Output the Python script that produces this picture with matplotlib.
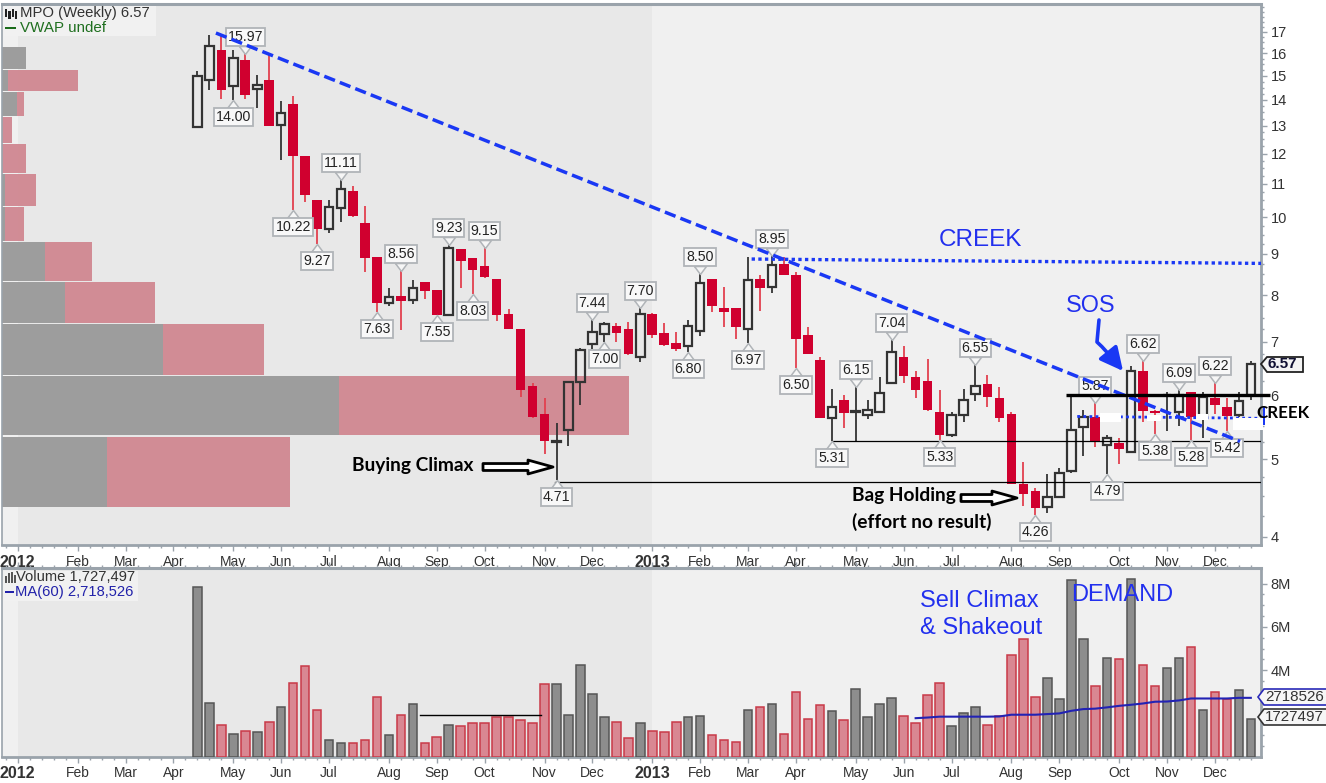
import matplotlib
matplotlib.use("Agg")
import matplotlib.pyplot as plt
from matplotlib.patches import Rectangle, Polygon, FancyArrowPatch
from matplotlib.path import Path
from matplotlib.transforms import Affine2D, blended_transform_factory
from matplotlib.ticker import FixedLocator, NullFormatter, FixedFormatter

plt.rcParams['font.family'] = ['Liberation Sans', 'DejaVu Sans']

# ---------- data ----------
opens = [12.94,14.81,16.14,14.56,15.69,14.43,14.81,13.02,13.83,11.91,10.50,9.66,10.27,10.78,9.83,8.92,7.82,7.98,7.89,8.30,
         8.12,7.55,9.13,8.89,8.69,8.37,7.57,7.25,6.16,5.69,5.25,5.43,6.23,6.95,7.15,7.32,7.25,6.70,7.57,7.17,
         6.97,6.91,7.21,8.37,7.71,7.71,7.25,8.37,8.18,8.74,8.47,7.13,6.64,5.62,5.93,5.72,5.67,5.72,6.21,6.70,
         6.32,6.25,5.72,5.35,5.67,6.02,6.20,5.95,5.69,4.65,4.56,4.36,4.49,4.83,5.48,5.64,5.20,5.23,5.10,6.43,
         5.74,6.00,5.72,6.06,5.62,5.95,5.81,5.67,6.00]
highs = [15.20,16.85,16.81,16.14,15.97,15.03,15.90,13.95,14.15,11.91,10.50,10.50,11.11,10.94,10.32,8.92,8.16,8.56,8.35,8.30,
         8.12,9.23,9.13,8.89,9.15,8.37,7.69,7.25,6.21,5.95,5.54,6.23,6.87,7.44,7.40,7.38,7.40,7.70,7.60,7.38,
         7.19,7.44,8.50,8.37,8.18,7.71,8.92,8.47,8.95,8.92,8.54,7.29,6.70,6.11,6.00,6.15,5.93,6.32,7.04,6.91,
         6.43,6.66,6.09,5.72,6.11,6.55,6.37,6.14,5.72,4.96,4.60,4.79,4.87,5.97,5.75,5.87,5.35,5.31,6.53,6.62,
         5.75,6.06,6.09,6.06,6.06,6.22,5.95,6.06,6.62]
lows = [12.94,14.39,14.03,14.00,14.03,13.68,12.98,11.78,10.22,10.44,9.27,9.55,9.86,10.00,8.54,7.63,7.75,7.23,7.80,7.91,
        7.55,7.55,8.16,8.03,8.39,7.42,7.25,5.97,5.62,5.07,4.71,5.19,5.83,6.85,7.00,6.99,6.73,6.60,7.07,6.91,
        6.81,6.80,7.11,7.62,7.29,7.05,6.97,7.64,8.05,8.47,6.50,6.75,5.62,5.26,5.46,5.27,5.61,5.72,6.21,6.21,
        5.95,5.74,5.28,5.33,5.56,5.90,5.80,5.56,4.65,4.37,4.26,4.28,4.48,4.81,5.04,5.18,4.79,4.93,5.09,5.56,
        5.38,5.42,5.49,5.28,5.31,5.69,5.42,5.64,5.92]
closes = [14.99,16.33,14.39,15.78,14.19,14.60,12.98,13.48,11.91,10.66,9.66,10.29,10.84,10.03,8.89,7.82,7.95,7.87,8.16,8.09,
          7.55,9.15,8.82,8.59,8.42,7.55,7.25,6.09,5.64,5.26,5.26,6.23,6.83,7.19,7.36,7.17,6.75,7.57,7.13,6.93,
          6.85,7.32,8.28,7.75,7.62,7.29,8.35,8.16,8.71,8.47,7.05,6.75,5.62,5.81,5.70,5.74,5.75,6.04,6.79,6.34,
          6.09,5.75,5.35,5.67,5.92,6.16,5.97,5.62,4.65,4.53,4.34,4.48,4.81,5.43,5.64,5.26,5.31,5.15,6.43,5.74,
          5.70,6.01,6.00,5.64,5.97,5.83,5.65,5.90,6.57]

volumes = [7.82,2.49,1.46,1.05,1.18,1.12,1.60,2.29,3.40,4.17,2.14,0.75,0.63,0.63,0.75,2.77,0.98,1.95,2.42,0.63,
           0.91,1.46,1.40,1.54,1.54,1.82,1.82,1.68,1.54,3.34,3.34,1.95,4.23,2.92,1.82,1.60,0.85,1.54,1.18,1.12,
           1.60,1.82,1.88,0.98,0.77,0.69,2.14,2.29,2.42,1.05,2.98,1.74,2.37,2.09,1.68,3.12,1.82,2.42,2.71,1.88,
           1.54,2.85,3.40,1.40,2.02,2.29,1.46,1.88,4.72,5.42,2.78,3.62,2.65,8.18,5.42,3.26,4.58,4.51,8.23,4.23,
           3.26,4.09,4.58,5.06,2.15,2.98,2.65,3.06,1.73]
volume_colors = "ggrgrgrgrrrggrrrgrgrrgrrrrrrrrgggggrrgrrrggrrrgrgrrrrgrggggrrrrgggrrrrrgggg"\
                "rgrgrrggrgrrgg"

ma_weeks = list(range(60, 89))
ma_values = [1.78,1.81,1.85,1.85,1.85,1.85,1.85,1.86,1.94,1.94,1.94,1.97,2.00,2.12,2.20,2.22,2.28,2.35,2.40,2.46,
             2.54,2.55,2.60,2.69,2.69,2.69,2.69,2.72,2.72]

month_weeks = [-15,-10,-6,-2,3,7,11,16,20,24,29,33,38,42,46,50,55,59,63,68,72,77,81,85]
month_labels = ['2012','Feb','Mar','Apr','May','Jun','Jul','Aug','Sep','Oct','Nov','Dec',
                '2013','Feb','Mar','Apr','May','Jun','Jul','Aug','Sep','Oct','Nov','Dec']

price_ticks = [4,5,6,7,8,9,10,11,12,13,14,15,16,17]
volume_ticks = [2,4,6,8]
volume_tick_labels = ['', '4M', '6M', '8M']

profile_low  = [15.29,14.35,13.36,12.36,11.35,10.32,9.34,8.33,7.38,6.36,5.35,4.36]
profile_high = [16.28,15.25,14.31,13.33,12.33,11.31,10.29,9.31,8.30,7.36,6.34,5.33]
profile_down = [24,6,15,0,0,3,3,43,63,161,337,105]
profile_up   = [0,70,7,10,24,31,19,47,90,101,290,183]

callout_text = ['15.97','14.00','10.22','9.27','11.11','8.56','7.63','7.55','9.23','8.03','9.15','7.44','7.00','7.70',
                '4.71','6.80','8.50','6.97','8.95','6.50','6.15','7.04','5.31','5.33','6.55','4.26','5.87','4.79',
                '6.62','5.38','6.09','5.28','6.22','5.42']
callout_week = [4,3,8,10,12,17,15,20,21,23,24,33,34,37,30,41,42,46,48,50,55,58,53,62,65,70,75,76,79,80,82,83,85,86]
callout_above = [1,0,0,0,1,1,0,0,1,0,1,1,0,1,0,0,1,0,1,0,1,1,0,0,1,0,1,0,1,0,1,0,1,0]

trend_week, trend_price = [1.55, 87.1], [16.95, 5.26]
creek_week, creek_price = [46.3, 88.85], [8.87, 8.76]
creek2_week, creek2_price = [73.5, 88.85], [5.65, 5.62]
support1_week, support1_price = [53, 88.85], [5.26, 5.26]
support2_week, support2_price = [29.9, 88.85], [4.68, 4.68]
sos_week, sos_price = [72.6, 89.6], [6.00, 6.00]
vol_line_week, vol_line_value = [18.6, 28.7], [1.92, 1.92]

# ---------- colours ----------
C_RED = '#d0002f'
C_WICK = '#e2404f'
C_DARK = '#333333'
C_BLUE = '#1a38f4'
C_TEXT_BLUE = '#2230ee'
C_SPINE = '#9aa3ab'

W, H = 1326, 783
fig = plt.figure(figsize=(W/100, H/100), dpi=100, facecolor='white')
px = Affine2D().scale(1, -1).translate(0, H)   # image pixel coordinates for page furniture


def axes_at(x0, y0, x1, y1):
    return fig.add_axes([x0/W, 1-y1/H, (x1-x0)/W, (y1-y0)/H])


XLIM = (-16.32, 88.85)
ax = axes_at(2, 4, 1261, 545)
av = axes_at(2, 568, 1261, 756.7)

for a in (ax, av):
    a.set_xlim(*XLIM)
    a.set_facecolor('#f0f0f0')
    a.axvspan(-15, 38, color='#e8e8e8', lw=0, zorder=0)
    for s in a.spines.values():
        s.set_color(C_SPINE)
        s.set_linewidth(1.2)
    a.spines['top'].set_linewidth(2.2)
    a.spines['right'].set_linewidth(2.0)
    a.spines['bottom'].set_linewidth(2.0)
    a.yaxis.tick_right()
    a.xaxis.set_major_locator(FixedLocator(month_weeks))
    a.xaxis.set_major_formatter(FixedFormatter(month_labels))
    a.xaxis.set_minor_locator(FixedLocator(list(range(-16, 89))))
    a.tick_params(axis='x', which='major', length=4, width=1, color=C_SPINE, labelsize=10,
                  labelcolor='#333333', pad=3)
    a.tick_params(axis='x', which='minor', length=2.5, width=1, color=C_SPINE)
    a.tick_params(axis='y', which='major', length=4, width=1, color=C_SPINE, labelsize=10.5,
                  labelcolor='#333333', pad=3)
    a.tick_params(axis='y', which='minor', length=2.5, width=1, color=C_SPINE)
    for t in a.get_xticklabels():
        if t.get_text().startswith('201'):
            t.set_fontweight('bold')
            t.set_fontsize(11.5)

# ---------- price panel ----------
ax.set_yscale('log')
ax.set_ylim(3.909, 18.42)
ax.yaxis.set_major_locator(FixedLocator(price_ticks))
ax.yaxis.set_major_formatter(FixedFormatter([str(p) for p in price_ticks]))
ax.yaxis.set_minor_locator(FixedLocator([4 + 0.25*k for k in range(0, 58)]))
ax.yaxis.set_minor_formatter(NullFormatter())

# volume-by-price histogram, measured from the left edge of the panel
prof_tf = blended_transform_factory(Affine2D().scale(1/1259, 1) + ax.transAxes, ax.transData)
prof_heights = [h-l for h, l in zip(profile_high, profile_low)]
ax.barh(profile_low, profile_down, height=prof_heights, align='edge', left=0,
        color='#9d9d9d', lw=0, zorder=1, transform=prof_tf)
ax.barh(profile_low, profile_up, height=prof_heights, align='edge', left=profile_down,
        color='#cf848e', alpha=0.92, lw=0, zorder=1, transform=prof_tf)

weeks = list(range(len(closes)))
for i, o, h, l, c in zip(weeks, opens, highs, lows, closes):
    top, bot = max(o, c), min(o, c)
    down = c < o
    wc = C_WICK if down else C_DARK
    ax.vlines(i, top, h, color=wc, lw=1.3, zorder=3)
    ax.vlines(i, l, bot, color=wc, lw=1.3, zorder=3)
    if down:
        ax.bar(i, top-bot, bottom=bot, width=0.8, color=C_RED, lw=0, zorder=4)
    else:
        ax.bar(i, top-bot, bottom=bot, width=0.72, facecolor='none', edgecolor=C_DARK, lw=1.6, zorder=4)

# hand drawn lines
ax.plot(support1_week, support1_price, color='black', lw=0.9, zorder=5)
ax.plot(support2_week, support2_price, color='black', lw=0.9, zorder=5)

# whited-out patches on the lower creek
for x0, y0, w, h in [(1100, 413, 21, 9), (1147, 415, 14, 6), (1196, 414, 12, 6), (1233, 418, 30, 12)]:
    fig.add_artist(Rectangle((x0, y0), w, h, transform=px, fc='white', ec='none', zorder=2.5)).set_clip_on(False)

ax.plot(trend_week, trend_price, color=C_BLUE, lw=2.5, ls=(0, (3.3, 1.5)), zorder=7)
ax.plot(creek_week, creek_price, color=C_BLUE, lw=2.4, ls=(0, (1, 1)), zorder=7)
ax.plot(creek2_week, creek2_price, color=C_BLUE, lw=2.0, ls=(0, (1, 1.2)), zorder=7)
ax.plot(sos_week, sos_price, color='black', lw=2.4, zorder=8, clip_on=False, solid_capstyle='butt')

# callouts
chev_up = Path([(-6, 8), (0, 0), (6, 8), (-6, 8)])
chev_down = Path([(-6, -8), (0, 0), (6, -8), (-6, -8)])
for text, wk, above in zip(callout_text, callout_week, callout_above):
    p = highs[wk] if above else lows[wk]
    ax.plot([wk], [p], marker=chev_up if above else chev_down, ms=11.5, mfc='#f6f6f6',
            mec='#b0b4b8', mew=1.1, zorder=5.5, clip_on=False)
    ax.annotate(text, xy=(wk, p), xytext=(0, 17 if above else -17), textcoords='offset pixels',
                ha='center', va='center', fontsize=10.2, color='#222222', zorder=6,
                bbox=dict(boxstyle='square,pad=0.14', fc='#f8f8f8', ec='#b0b4b8', lw=1.3))

# ---------- volume panel ----------
av.set_ylim(0, 8.72)
av.yaxis.set_major_locator(FixedLocator(volume_ticks))
av.yaxis.set_major_formatter(FixedFormatter(volume_tick_labels))
av.yaxis.set_minor_locator(FixedLocator([0.5*k for k in range(1, 17)]))
av.yaxis.set_minor_formatter(NullFormatter())
av.tick_params(axis='x', which='both', top=True)

for i, v, col in zip(weeks, volumes, volume_colors):
    if col == 'r':
        av.bar(i, v, width=0.72, facecolor='#d98792', edgecolor='#c93a48', lw=1.1, zorder=3)
    else:
        av.bar(i, v, width=0.72, facecolor='#8d8d8d', edgecolor='#555555', lw=1.1, zorder=3)
av.plot(ma_weeks, ma_values, color='#2222b4', lw=1.5, zorder=5)
av.plot(vol_line_week, vol_line_value, color='black', lw=1.0, zorder=5)


# ---------- page furniture in image pixels ----------
def T(x, y, s, **kw):
    kw.setdefault('va', 'center')
    kw.setdefault('ha', 'left')
    kw.setdefault('zorder', 20)
    return fig.text(x, y, s, transform=px, **kw)


def R(x, y, w, h, **kw):
    kw.setdefault('zorder', 19)
    fig.add_artist(Rectangle((x, y), w, h, transform=px, **kw))


# legends
R(4, 6, 152, 30, fc='#f1f1f1', ec='none')
for x0, y0, w, h in [(5, 9, 2, 8), (8, 11, 3, 8), (12, 9, 2, 8), (15, 11, 2, 8)]:
    R(x0, y0, w, h, fc='#222222', ec='none', zorder=20)
T(20, 13, 'MPO (Weekly) 6.57', fontsize=10.7, color='#333333')
R(5, 26.5, 11, 2, fc='#1a6b1a', ec='none', zorder=20)
T(20, 28, 'VWAP undef', fontsize=10.9, color='#1f6f1f')

R(4, 571, 134, 30, fc='#f1f1f1', ec='none')
for x0, y0, w, h in [(5, 576, 2, 7), (8, 573, 2, 10), (11, 572, 2, 11), (14, 575, 2, 8)]:
    R(x0, y0, w, h, fc='#555555', ec='none', zorder=20)
T(16, 577, 'Volume 1,727,497', fontsize=10.6, color='#333333')
R(5, 591, 9, 2, fc='#2222aa', ec='none', zorder=20)
T(15, 592, 'MA(60) 2,718,526', fontsize=10.6, color='#2222aa')

# blue annotation text
T(939, 240, 'CREEK', fontsize=17.5, color=C_TEXT_BLUE)
T(1066, 306, 'SOS', fontsize=16.8, color=C_TEXT_BLUE)
T(920, 601, 'Sell Climax', fontsize=17, color=C_TEXT_BLUE)
T(920, 628, '& Shakeout', fontsize=17, color=C_TEXT_BLUE)
T(1071, 595, 'DEMAND', fontsize=17, color=C_TEXT_BLUE)

# black annotation text
BOLD = dict(fontsize=13.8, color='black', fontweight='bold', family=['Lato', 'DejaVu Sans'])
T(352, 466, 'Buying Climax', **BOLD)
T(852, 496, 'Bag Holding', **BOLD)
T(852, 522, '(effort no result)', **BOLD)
fig.add_artist(Rectangle((1262.5, 407), 2.5, 18, transform=px, fc=C_BLUE, ec='none', zorder=19))
T(1256, 413, 'CREEK', **{**BOLD, 'fontsize': 12.2})

# hollow arrows
for x0, x1, y in [(483, 553, 467), (961, 1017, 498)]:
    fig.add_artist(FancyArrowPatch((x0, y), (x1, y), transform=px,
                                   arrowstyle='simple,head_length=18,head_width=10,tail_width=5',
                                   mutation_scale=1, fc='white', ec='black', lw=2.0, zorder=19, shrinkA=0, shrinkB=0))

# SOS arrow
sos_path = Path([(1099, 320), (1097, 342), (1106, 350), (1123, 371)],
                [Path.MOVETO, Path.LINETO, Path.CURVE3, Path.CURVE3])
fig.add_artist(FancyArrowPatch(path=sos_path, transform=px, arrowstyle='-|>,head_length=14,head_width=7',
                               mutation_scale=1, color=C_BLUE, lw=2.6, zorder=19, shrinkA=0, shrinkB=0))

# last-value tags
fig.add_artist(Polygon([(1261, 364), (1267, 357), (1303, 357), (1303, 372), (1267, 372)], closed=True, transform=px,
                       fc='#f4f4f4', ec='#222222', lw=1.3, zorder=19))
T(1268, 364.5, '6.57', fontsize=11, fontweight='bold', color='#111133')
fig.add_artist(Polygon([(1258, 697), (1264, 689), (1332, 689), (1332, 705), (1264, 705)], closed=True, transform=px,
                       fc='#f6f6f6', ec='#2a2ab8', lw=1.2, zorder=19))
T(1265, 697, '2718526', fontsize=10.9, color='#333333')
fig.add_artist(Polygon([(1258, 717), (1264, 709), (1332, 709), (1332, 725), (1264, 725)], closed=True, transform=px,
                       fc='#f6f6f6', ec='#333333', lw=1.2, zorder=19))
T(1265, 717, '1727497', fontsize=10.9, color='#333333')

fig.savefig('out.png', dpi=100, facecolor='white')
